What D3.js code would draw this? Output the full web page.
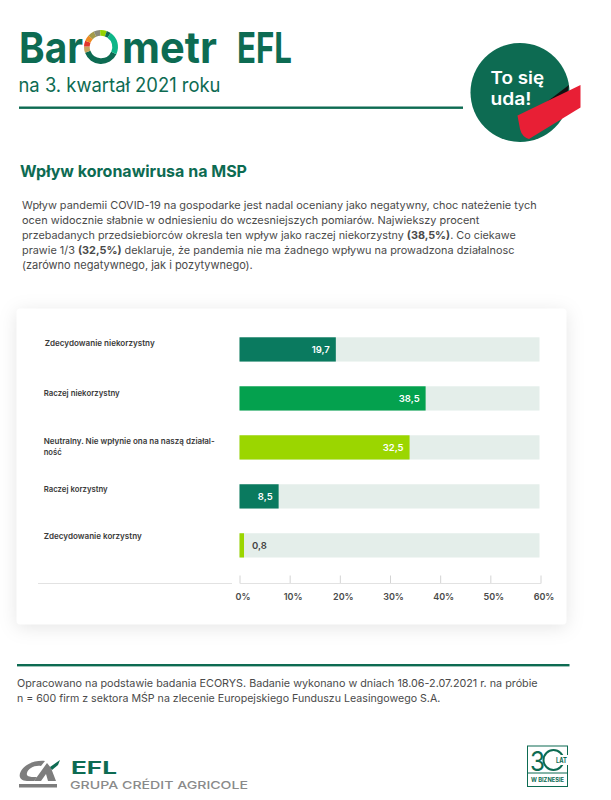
<!DOCTYPE html>
<html>
<head>
<meta charset="utf-8">
<script src="https://cdn.jsdelivr.net/npm/d3@7"></script>
<style>
  body { margin: 0; background: #fff; }
  text { font-family: Inter, "Noto Sans", sans-serif; }
  .axis path { display: none; }
</style>
</head>
<body>
<div id="chart"></div>
<script>
const GREEN = '#0d6b52';

// w = bar length as drawn in the picture (on the axis), label = printed value
// (the printed labels do not sit exactly on the axis in the original)
const data = [
  { name: ['Zdecydowanie niekorzystny'], w: 19.2, label: '19,7', color: '#0a7a5f', lx: 44.7, ly: 346, tl: [110] },
  { name: ['Raczej niekorzystny'], w: 37.1, label: '38,5', color: '#04a14e', lx: 43.7, ly: 395.5, tl: [76] },
  { name: ['Neutralny. Nie wpłynie ona na naszą działal-', 'ność'], w: 33.9, label: '32,5', color: '#9bd600', lx: 43.7, ly: 444, tl: [171, 18] },
  { name: ['Raczej korzystny'], w: 7.8, label: '8,5', color: '#0a7a5f', lx: 43.7, ly: 491.5, tl: [64] },
  { name: ['Zdecydowanie korzystny'], w: 0.9, label: '0,8', color: '#9bd600', lx: 43.7, ly: 538.5, tl: [98] },
];

// ring of the "O", sizes in degrees from lower right, clockwise
const ringParts = [
  { v: 135, c: '#0d6b52' }, { v: 22, c: '#c8a45c' }, { v: 20, c: '#e1352b' },
  { v: 21, c: '#ee8a22' }, { v: 22, c: '#a39a4a' }, { v: 22, c: '#8a8a78' },
  { v: 23, c: '#93d200' }, { v: 15, c: '#0d6b52' }, { v: 80, c: '#0db688' },
];

const svg = d3.select('#chart').append('svg').attr('width', 611).attr('height', 800);

function line(x, y, str, opts) {
  const t = svg.append('text').attr('x', x).attr('y', y)
    .attr('font-size', opts.size).attr('font-weight', opts.weight || 400)
    .attr('fill', opts.fill || '#3c3c3c');
  // **bold** parts go in a tspan
  str.split('**').forEach((s, i) => {
    t.append('tspan').attr('font-weight', i % 2 ? 700 : null).text(s);
  });
  if (opts.fit) t.attr('font-size', opts.size * opts.fit / t.node().getComputedTextLength());
  if (opts.len) t.attr('textLength', opts.len).attr('lengthAdjust', 'spacingAndGlyphs');
  return t;
}

// header
line(19, 63, 'Bar', { size: 43, weight: 700, fill: GREEN, len: 64 });
line(122, 63, 'metr', { size: 43, weight: 700, fill: GREEN, len: 95 });
line(237, 63, 'EFL', { size: 43, weight: 700, fill: GREEN, len: 55 });

const arc = d3.arc().innerRadius(11.3).outerRadius(17);
svg.append('g').attr('transform', 'translate(101,47)')
  .selectAll('path')
  .data(d3.pie().sort(null).value(d => d.v).startAngle(115 * Math.PI / 180).endAngle(475 * Math.PI / 180)(ringParts))
  .join('path')
  .attr('d', arc)
  .attr('fill', d => d.data.c);

line(18.5, 92, 'na 3. kwartał 2021 roku', { size: 19.5, fill: GREEN, len: 202 });
svg.append('rect').attr('x', 19).attr('y', 106.5).attr('width', 444).attr('height', 2.4).attr('fill', GREEN);

// badge
svg.append('circle').attr('cx', 520).attr('cy', 92.5).attr('r', 49.5).attr('fill', GREEN);
svg.append('path').attr('d', 'M536,110 L569,85 L566,100 Z').attr('fill', '#111');
svg.append('path').attr('d', 'M517.5,115.5 L580.5,85 L580.5,107.5 L529,139 Q522,137 520,129 Z').attr('fill', '#e81f35');
line(490.5, 84, 'To się', { size: 17, weight: 600, fill: '#fff', len: 53.5 });
line(490.5, 105, 'uda!', { size: 17, weight: 600, fill: '#fff', len: 41 });

// intro
line(20, 177, 'Wpływ koronawirusa na MSP', { size: 16.5, weight: 700, fill: GREEN, len: 227 });
const intro = [
  ['Wpływ pandemii COVID-19 na gospodarke jest nadal oceniany jako negatywny, choc nateżenie tych', 515],
  ['ocen widocznie słabnie w odniesieniu do wczesniejszych pomiarów. Najwiekszy procent', 458],
  ['przebadanych przedsiebiorców okresla ten wpływ jako raczej niekorzystny **(38,5%)**. Co ciekawe', 494],
  ['prawie 1/3 **(32,5%)** deklaruje, że pandemia nie ma żadnego wpływu na prowadzona działalnosc', 493],
  ['(zarówno negatywnego, jak i pozytywnego).', 231],
];
intro.forEach((d, i) => line(22, 209 + i * 15, d[0], { size: 11.5, fill: '#4a4a4a', fit: d[1] }));

// card
svg.append('rect').attr('x', 16.5).attr('y', 308.5).attr('width', 550).attr('height', 316).attr('rx', 4)
  .attr('fill', '#fff').style('filter', 'drop-shadow(0 3px 9px rgba(0,0,0,0.10))');

// chart
const x = d3.scaleLinear().domain([0, 60]).range([239.5, 540.5]);
const y = d3.scaleBand().domain(data.map(d => d.label)).range([337.3, 557.5]).paddingInner(0.505).paddingOuter(0);

const rows = svg.append('g').selectAll('g').data(data).join('g');
rows.append('rect')
  .attr('x', x(0)).attr('y', d => y(d.label))
  .attr('width', 300).attr('height', y.bandwidth())
  .attr('fill', '#e4eeea');
rows.append('rect')
  .attr('x', x(0)).attr('y', d => y(d.label))
  .attr('width', d => x(d.w) - x(0)).attr('height', y.bandwidth())
  .attr('fill', d => d.color);
rows.append('text')
  .attr('x', d => (d.w < 2 ? x(d.w) + 8 : x(d.w) - 6))
  .attr('y', d => y(d.label) + 15.5)
  .attr('text-anchor', d => (d.w < 2 ? 'start' : 'end'))
  .attr('font-size', 9.5).attr('font-weight', 600)
  .attr('fill', d => (d.w < 2 ? '#444' : '#fff'))
  .text(d => d.label);

data.forEach(d => d.name.forEach((s, i) => {
  line(d.lx, d.ly + i * 10.5, s, { size: 8.2, weight: 600, fill: '#3a3a3a', len: d.tl[i] });
}));

// axis
const axis = svg.append('g').attr('class', 'axis').attr('transform', 'translate(0,583.5)')
  .call(d3.axisBottom(x).ticks(6).tickFormat(d => d + '%').tickSize(-8).tickPadding(10));
axis.selectAll('line').attr('stroke', '#d4d4d4');
axis.selectAll('text').attr('font-size', 9).attr('font-weight', 600).attr('fill', '#4a4a4a').attr('dx', 3);
svg.append('line').attr('x1', 38).attr('x2', 232).attr('y1', 583.5).attr('y2', 583.5).attr('stroke', '#e2e2e2').attr('stroke-width', 1.2);
svg.append('line').attr('x1', 240).attr('x2', 541).attr('y1', 583.5).attr('y2', 583.5).attr('stroke', '#e2e2e2').attr('stroke-width', 1.2);

// footer
svg.append('rect').attr('x', 17).attr('y', 664).attr('width', 552.5).attr('height', 2.4).attr('fill', GREEN);
line(17, 687, 'Opracowano na podstawie badania ECORYS. Badanie wykonano w dniach 18.06-2.07.2021 r. na próbie', { size: 11.5, fill: '#4a4a4a', fit: 521 });
line(17, 702, 'n = 600 firm z sektora MŚP na zlecenie Europejskiego Funduszu Leasingowego S.A.', { size: 11.5, fill: '#4a4a4a', fit: 424 });

// logo
svg.append('path').attr('fill', '#7d7d7d')
  .attr('d', 'M45,761 L41,766 C34,765 28,769 27,773 C26,776 29,777 33,777 L37,777 L34,781 L27,781 C20,781 18,776 21,771 C25,764 35,760 45,761 Z');
svg.append('path').attr('fill', '#7d7d7d').attr('d', 'M47,763 L34,781 L41,781 L46,774 L48,781 L56,781 L51,768 Z');
svg.append('path').attr('fill', GREEN).attr('d', 'M50,767 L60,760 L58,765 L52,770 Z');
svg.append('rect').attr('x', 19).attr('y', 784).attr('width', 38).attr('height', 3.5).attr('fill', '#7d7d7d');
line(71, 773.5, 'EFL', { size: 17, weight: 700, fill: GREEN, len: 46 });
line(70, 788.5, 'GRUPA CRÉDIT AGRICOLE', { size: 11, weight: 500, fill: '#8a8a8a', len: 178 });

// 30 lat badge
svg.append('rect').attr('x', 527.5).attr('y', 746).attr('width', 40).attr('height', 40.5).attr('fill', 'none').attr('stroke', GREEN).attr('stroke-width', 1);
svg.append('line').attr('x1', 527.5).attr('x2', 567.5).attr('y1', 773).attr('y2', 773).attr('stroke', GREEN).attr('stroke-width', 1);
line(530, 771, '3', { size: 27, fill: GREEN, len: 15 });
svg.append('circle').attr('cx', 553.5).attr('cy', 760).attr('r', 10).attr('fill', 'none').attr('stroke', GREEN).attr('stroke-width', 2);
svg.append('rect').attr('x', 555).attr('y', 755).attr('width', 13).attr('height', 10).attr('fill', '#fff');
line(556, 763, 'LAT', { size: 7, weight: 700, fill: GREEN, len: 11 });
line(531, 782, 'W BIZNESIE', { size: 5.5, weight: 700, fill: GREEN, len: 33 });
</script>
</body>
</html>
